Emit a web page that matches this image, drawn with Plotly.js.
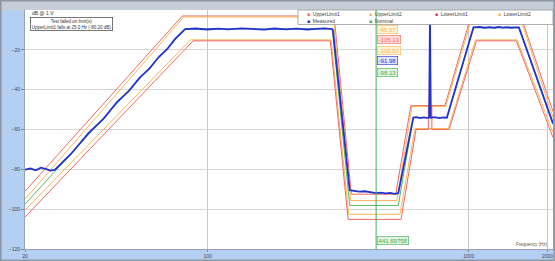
<!DOCTYPE html>
<html><head><meta charset="utf-8">
<script src="https://cdn.plot.ly/plotly-3.0.1.min.js"></script>
<style>html,body{margin:0;padding:0;background:#fff;}#chart{width:555px;height:261px;}</style>
</head><body><div id="chart"></div>
<script>
// ---- data (frequency in Hz, level in dB) ----
const measuredFreq = [20,21,22,23,24,25,26,30,35,40,45,50,55,60,65,70,75,82,90,100,110,120,135,150,165,180,200,220,240,260,280,300,302,350,360,380,400,420,441,460,480,500,520,537,613,630,650,670,690,705,710,715,740,770,800,824,1042,1100,1150,1200,1250,1300,1350,1400,1450,1500,1555,2100];
const measuredLevel = [-80.2,-79.6,-80.5,-79.2,-79.8,-80.6,-80.3,-72.3,-61.8,-54.5,-46.2,-40.6,-34.0,-29.3,-23.6,-19.7,-14.6,-9.6,-9.3,-9.8,-9.4,-9.7,-9.2,-9.6,-9.9,-9.3,-9.7,-9.4,-9.8,-9.5,-9.2,-9.6,-10.2,-90.5,-90.8,-91.2,-91.0,-91.6,-91.98,-91.7,-92.1,-91.8,-92.3,-92.0,-54.0,-53.8,-54.3,-53.9,-54.2,-54.0,-2.8,-54.1,-53.8,-54.3,-53.9,-54.1,-8.7,-8.5,-8.9,-8.6,-8.9,-8.5,-8.8,-8.6,-8.9,-8.7,-8.7,-57.0];

const nominalFreq  = [20,82,300,350,537,613,824,1042,1555,2100];
const nominalLevel = [-97.5,-9.5,-9.5,-98.13,-98.13,-54.0,-54.0,-9.0,-9.0,-57.5];

const upper1Freq  = [20,80,305,355,525,600,705,710,715,810,1020,1580,2100];
const upper1Level = [-91.0,-3.0,-3.0,-92.5,-92.5,-48.0,-48.0,-2.8,-48.0,-48.0,-3.0,-3.0,-51.0];

const upper2Freq  = [20,81,303,353,530,606,815,1030,1570,2100];
const upper2Level = [-95.0,-3.5,-3.5,-95.67,-95.67,-48.5,-48.5,-3.5,-3.5,-54.0];

const lower2Freq  = [20,86,297,347,545,622,835,1060,1530,2100];
const lower2Level = [-100.5,-15.0,-15.0,-102.57,-102.57,-59.5,-59.5,-15.0,-15.0,-61.5];

const lower1Freq  = [20,88,295,345,550,628,700,700,722,722,840,1070,1520,2100];
const lower1Level = [-104.0,-15.5,-15.5,-105.13,-105.13,-60.0,-60.0,-48.0,-48.0,-60.0,-60.0,-15.5,-15.5,-64.0];

const cursorFreq = 441.69758;
const cursorReadouts = ['-95.67','-105.13','-102.57','-91.98','-98.13'];

const legendNames = ['UpperLimit1','UpperLimit2','LowerLimit1','LowerLimit2','Measured','Nominal'];
const yTicks = [-120,-100,-80,-60,-40,-20];
const xTicks = [20,100,1000,2000];
const xTickText = ['20','100','1000','2000'];

// ---- styling ----
const RED='#ee6a60', ORANGE='#f6b75a', MAG='#e23a6a', BLUE='#2233d0', GREEN='#45ad55';
const L=25, T=10, W=528, H=239;
const px = p => (p-L)/W;
const py = p => (T+H-p)/H;
const F = 'Liberation Sans, Arial, sans-serif';

const traces = [
  {x:upper1Freq,y:upper1Level,mode:'lines',line:{color:RED,width:1},showlegend:false,hoverinfo:'skip'},
  {x:upper2Freq,y:upper2Level,mode:'lines',line:{color:ORANGE,width:1},showlegend:false,hoverinfo:'skip'},
  {x:nominalFreq,y:nominalLevel,mode:'lines',line:{color:GREEN,width:0.9},showlegend:false,hoverinfo:'skip'},
  {x:lower2Freq,y:lower2Level,mode:'lines',line:{color:ORANGE,width:1},showlegend:false,hoverinfo:'skip'},
  {x:lower1Freq,y:lower1Level,mode:'lines',line:{color:RED,width:1},showlegend:false,hoverinfo:'skip'},
  {x:measuredFreq,y:measuredLevel,mode:'lines',line:{color:BLUE,width:1.8},showlegend:false,hoverinfo:'skip'}
];

const annotations = [];
annotations.push({xref:'paper',yref:'paper',x:px(30),y:py(13),xanchor:'left',yanchor:'middle',showarrow:false,
  text:'dB @ 1 V',font:{family:F,size:5,color:'#333'}});
annotations.push({xref:'paper',yref:'paper',x:px(30),y:py(17),xanchor:'left',yanchor:'top',showarrow:false,
  text:'Test failed on limit(s)<br>UpperLimit1 fails at 25.0 Hz (-80.20 dB)',align:'center',
  font:{family:F,size:4.5,color:'#333'},bgcolor:'#ffffff',bordercolor:'#555',borderwidth:0.8,borderpad:1});

const legendColors=[RED,ORANGE,MAG,ORANGE,BLUE,GREEN];
const legendCols=[305,367,433,496];
const legendRows=[14,21];
legendNames.forEach((n,i)=>{
  annotations.push({xref:'paper',yref:'paper',x:px(legendCols[i%4]),y:py(legendRows[Math.floor(i/4)]),
    xanchor:'left',yanchor:'middle',showarrow:false,
    text:'<span style="color:'+legendColors[i]+'">■</span>  '+n,font:{family:F,size:5,color:'#444'}});
});

const roColors=[ORANGE,RED,ORANGE,BLUE,GREEN];
const roBg=['#fff3d6','#ffdcd8','#fff0d0','#dfe3ff','#dff3e0'];
const roRows=[29,39,50,61,72];
cursorReadouts.forEach((t,i)=>{
  annotations.push({xref:'x',yref:'paper',x:Math.log10(cursorFreq),xshift:1,y:py(roRows[i]),xanchor:'left',yanchor:'middle',
    showarrow:false,text:t,font:{family:F,size:6,color:roColors[i]},bgcolor:roBg[i],bordercolor:roColors[i],borderwidth:0.6,borderpad:1});
});
annotations.push({xref:'x',yref:'paper',x:Math.log10(cursorFreq),xshift:1,y:py(240),xanchor:'left',yanchor:'middle',
  showarrow:false,text:cursorFreq.toFixed(5),font:{family:F,size:6,color:GREEN},bgcolor:'#dff3e0',bordercolor:GREEN,borderwidth:0.6,borderpad:1});
annotations.push({xref:'paper',yref:'paper',x:px(550),y:py(244),xanchor:'right',yanchor:'middle',showarrow:false,
  text:'Frequency (Hz)',font:{family:F,size:4.5,color:'#555'}});

const shapes = [
  {type:'rect',xref:'paper',yref:'paper',x0:px(0),x1:px(555),y0:1,y1:py(0),fillcolor:'#c6ced8',line:{width:0}},
  {type:'rect',xref:'paper',yref:'paper',x0:px(298),x1:px(553),y0:py(24.5),y1:py(10),fillcolor:'#ffffff',line:{color:'#9a9a9a',width:0.8}},
  {type:'line',xref:'x',yref:'paper',x0:cursorFreq,x1:cursorFreq,y0:0,y1:1,line:{color:GREEN,width:1}},
  {type:'rect',xref:'paper',yref:'paper',x0:px(0.8),x1:px(554.2),y0:py(260.2),y1:py(0.8),line:{color:'#8d98a6',width:1.6}}
];

const layout = {
  width:555,height:261,
  margin:{l:L,r:2,t:T,b:12,pad:0},
  paper_bgcolor:'#b3cff2',plot_bgcolor:'#ffffff',
  font:{family:F,size:5,color:'#445'},
  showlegend:false,
  xaxis:{type:'log',range:[Math.log10(20),Math.log10(2100)],tickvals:xTicks,ticktext:xTickText,
    showgrid:true,gridcolor:'#c9c9c9',gridwidth:1,zeroline:false,showline:true,mirror:true,linecolor:'#9aa3ad',linewidth:1,
    ticks:'outside',ticklen:2,tickcolor:'#888',tickfont:{family:F,size:5,color:'#445'}},
  yaxis:{range:[-120,0],tickvals:yTicks,showgrid:true,gridcolor:'#d6d6d6',gridwidth:1,zeroline:false,
    showline:true,mirror:true,linecolor:'#9aa3ad',linewidth:1,ticks:'outside',ticklen:3,tickcolor:'#888',
    tickfont:{family:F,size:5,color:'#445'}},
  shapes:shapes,annotations:annotations
};
Plotly.newPlot('chart',traces,layout,{staticPlot:true,displayModeBar:false});
</script></body></html>
